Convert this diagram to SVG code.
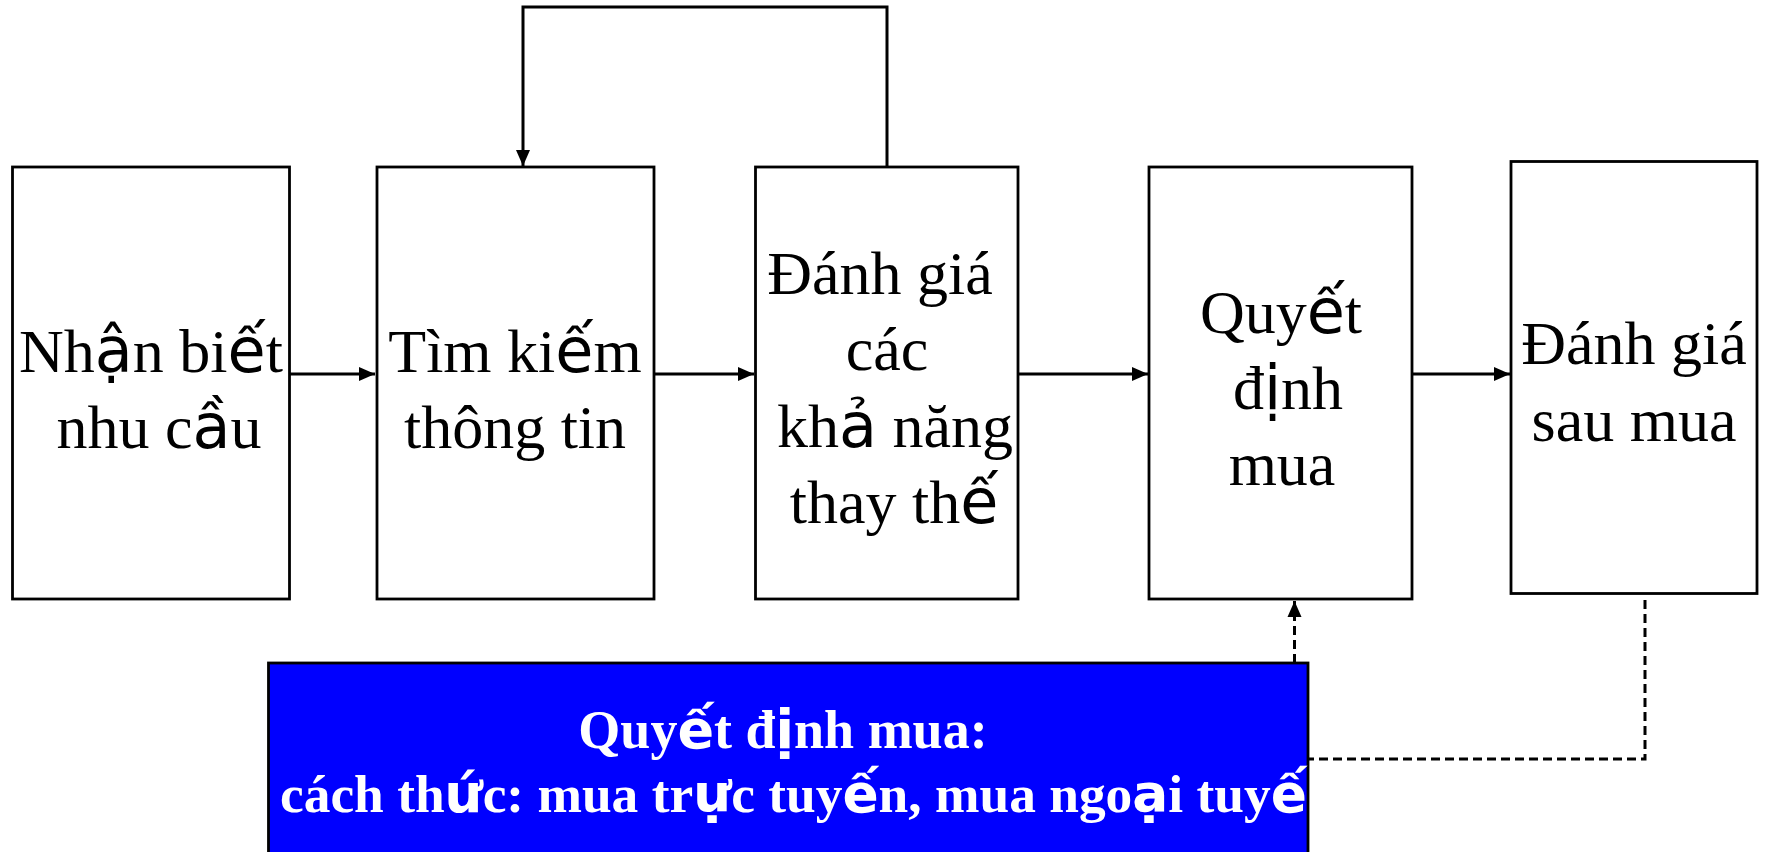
<svg xmlns="http://www.w3.org/2000/svg" width="1768" height="852" viewBox="0 0 1768 852">
<style>
.box{fill:#fff;stroke:#000;stroke-width:2.8}
.lbl{font-family:"Liberation Serif","Times New Roman",serif;font-size:62px;fill:#000;text-anchor:middle}
.fb{font-family:"DejaVu Sans",sans-serif}
.conn{fill:none;stroke:#000;stroke-width:3}
.dash{stroke-dasharray:9,5}
.blue{fill:#0000ff;stroke:#000;stroke-width:2.8}
.wt{font-family:"Liberation Serif","Times New Roman",serif;font-size:54px;font-weight:bold;fill:#fff}
</style>
<defs>
<marker id="ah" markerUnits="userSpaceOnUse" markerWidth="17" markerHeight="15" refX="16" refY="7" orient="auto" viewBox="0 0 17 14">
<path d="M0,0 L16,7 L0,14 z" fill="#000"/>
</marker>
<clipPath id="clipBlue"><rect x="268" y="663" width="1040" height="200"/></clipPath>
</defs>
<rect width="1768" height="852" fill="#fff"/>
<g id="connectors">
<path class="conn" d="M290,374 H375" marker-end="url(#ah)"/>
<path class="conn" d="M654,374 H754" marker-end="url(#ah)"/>
<path class="conn" d="M1018,374 H1148" marker-end="url(#ah)"/>
<path class="conn" d="M1412,374 H1510" marker-end="url(#ah)"/>
<path class="conn" d="M887,167 V7 H523 V166" marker-end="url(#ah)"/>
<path class="conn dash" d="M1294.5,663 V601" marker-end="url(#ah)"/>
<path class="conn dash" d="M1645,600 V759 H1308"/>
</g>
<g id="node1">
<rect class="box" x="12.5" y="167" width="277" height="432"/>
<text class="lbl" x="151" y="372">Nh<tspan class="fb">ậ</tspan>n bi<tspan class="fb">ế</tspan>t</text>
<text class="lbl" x="159" y="448">nhu c<tspan class="fb">ầ</tspan>u</text>
</g>
<g id="node2">
<rect class="box" x="377" y="167" width="277" height="432"/>
<text class="lbl" x="515" y="372">Tìm ki<tspan class="fb">ế</tspan>m</text>
<text class="lbl" x="515" y="448">thông tin</text>
</g>
<g id="node3">
<rect class="box" x="755.5" y="167" width="262.5" height="432"/>
<text class="lbl" x="880" y="294">Đánh giá</text>
<text class="lbl" x="887" y="370">các</text>
<text class="lbl" x="895" y="447">kh<tspan class="fb">ả</tspan> năng</text>
<text class="lbl" x="894" y="523">thay th<tspan class="fb">ế</tspan></text>
</g>
<g id="node4">
<rect class="box" x="1149" y="167" width="263" height="432"/>
<text class="lbl" x="1281" y="333">Quy<tspan class="fb">ế</tspan>t</text>
<text class="lbl" x="1288" y="409">đ<tspan class="fb">ị</tspan>nh</text>
<text class="lbl" x="1282" y="485">mua</text>
</g>
<g id="node5">
<rect class="box" x="1511" y="161.5" width="246" height="432"/>
<text class="lbl" x="1634" y="364">Đánh giá</text>
<text class="lbl" x="1634" y="441">sau mua</text>
</g>
<g id="node6">
<rect class="blue" x="268.5" y="663" width="1039.5" height="200"/>
<g clip-path="url(#clipBlue)">
<text class="wt" x="783" y="748" text-anchor="middle">Quy<tspan class="fb">ế</tspan>t đ<tspan class="fb">ị</tspan>nh mua:</text>
<text class="wt" x="280" y="812" style="font-size:53.4px">cách th<tspan class="fb">ứ</tspan>c: mua tr<tspan class="fb">ự</tspan>c tuy<tspan class="fb">ế</tspan>n, mua ngo<tspan class="fb">ạ</tspan>i tuy<tspan class="fb">ế</tspan>n</text>
</g>
</g>
</svg>
